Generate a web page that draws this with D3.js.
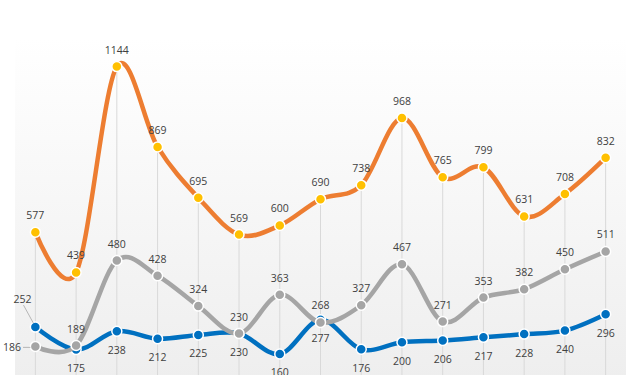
<!DOCTYPE html>
<html>
<head>
<meta charset="utf-8">
<script src="https://cdn.jsdelivr.net/npm/d3@7"></script>
<style>
  html, body { margin: 0; padding: 0; background: #fff; }
  svg { display: block; }
</style>
</head>
<body>
<svg id="chart" width="640" height="375"></svg>
<script>
const categories = ["1","2","3","4","5","6","7","8","9","10","11","12","13","14","15"];
const orangeValues = [577, 439, 1144, 869, 695, 569, 600, 690, 738, 968, 765, 799, 631, 708, 832];
const grayValues   = [186, 189, 480, 428, 324, 230, 363, 268, 327, 467, 271, 353, 382, 450, 511];
const blueValues   = [252, 175, 238, 212, 225, 230, 160, 277, 176, 200, 206, 217, 228, 240, 296];

const W = 640, H = 375;
const plot = { left: 15, right: 626, top: 38, bottom: 420 };
const svg = d3.select("#chart");

const x = d3.scalePoint().domain(categories).range([plot.left, plot.right]).padding(0.5);
const y = d3.scaleLinear().domain([0, 1242]).range([400.7, plot.top]);

// plot area gradient
const defs = svg.append("defs");
const grad = defs.append("linearGradient").attr("id", "bg").attr("x1", 0).attr("y1", 0).attr("x2", 0).attr("y2", 1);
grad.append("stop").attr("offset", "0%").attr("stop-color", "#ffffff");
grad.append("stop").attr("offset", "100%").attr("stop-color", "#ececec");
svg.append("rect").attr("x", plot.left).attr("y", plot.top)
  .attr("width", plot.right - plot.left).attr("height", plot.bottom - plot.top)
  .attr("fill", "url(#bg)");

// drop lines
svg.append("g").selectAll("line").data(categories).join("line")
  .attr("x1", d => x(d)).attr("x2", d => x(d))
  .attr("y1", (d, i) => y(Math.max(orangeValues[i], grayValues[i], blueValues[i])))
  .attr("y2", plot.bottom)
  .attr("stroke", "#d9d9d9").attr("stroke-width", 1);

const series = [
  { name: "orange", values: orangeValues, line: "#ED7D31", marker: "#FFC000" },
  { name: "blue", values: blueValues, line: "#0070C0", marker: "#0070C0" },
  { name: "gray", values: grayValues, line: "#A5A5A5", marker: "#A5A5A5" }
];

const lineGen = d3.line().curve(d3.curveCardinal.tension(0))
  .x((d, i) => x(categories[i])).y(d => y(d));

series.forEach(s => {
  const g = svg.append("g");
  g.append("path").attr("d", lineGen(s.values))
    .attr("fill", "none").attr("stroke", s.line).attr("stroke-width", 4.5)
    .attr("stroke-linecap", "round").attr("stroke-linejoin", "round");
  g.selectAll("circle").data(s.values).join("circle")
    .attr("cx", (d, i) => x(categories[i])).attr("cy", d => y(d))
    .attr("r", 5).attr("fill", s.marker)
    .attr("stroke", "#ffffff").attr("stroke-width", 1.5);
});

// labels
const lab = svg.append("g")
  .attr("font-family", "'Open Sans', 'DejaVu Sans', sans-serif")
  .attr("font-size", 10.5).attr("fill", "#404040").attr("text-anchor", "middle");

function addLabels(values, pos) {
  values.forEach((v, i) => {
    const px = x(categories[i]), py = y(v);
    let o = pos(i, v, px, py);
    if (!o) return;
    lab.append("text").attr("x", o.x).attr("y", o.y)
      .attr("text-anchor", o.anchor || "middle")
      .attr("dominant-baseline", "central").text(v);
  });
}

addLabels(orangeValues, (i, v, px, py) => ({ x: px, y: py - 17 }));
addLabels(grayValues, (i, v, px, py) => {
  if (i === 0) return { x: 21, y: py + 1, anchor: "end" };
  return { x: px, y: py - 17 };
});
addLabels(blueValues, (i, v, px, py) => {
  if (i === 0) return { x: 22.5, y: py - 28 };
  return { x: px, y: py + 18.5 };
});

// leader lines
const p0x = x(categories[0]);
svg.append("line").attr("x1", 23.5).attr("y1", y(blueValues[0]) - 22)
  .attr("x2", p0x - 2).attr("y2", y(blueValues[0]) - 4)
  .attr("stroke", "#a6a6a6").attr("stroke-width", 0.8);
svg.append("line").attr("x1", 23).attr("y1", y(grayValues[0]) + 1)
  .attr("x2", p0x - 5).attr("y2", y(grayValues[0]) + 1)
  .attr("stroke", "#a6a6a6").attr("stroke-width", 0.8);
</script>
</body>
</html>
